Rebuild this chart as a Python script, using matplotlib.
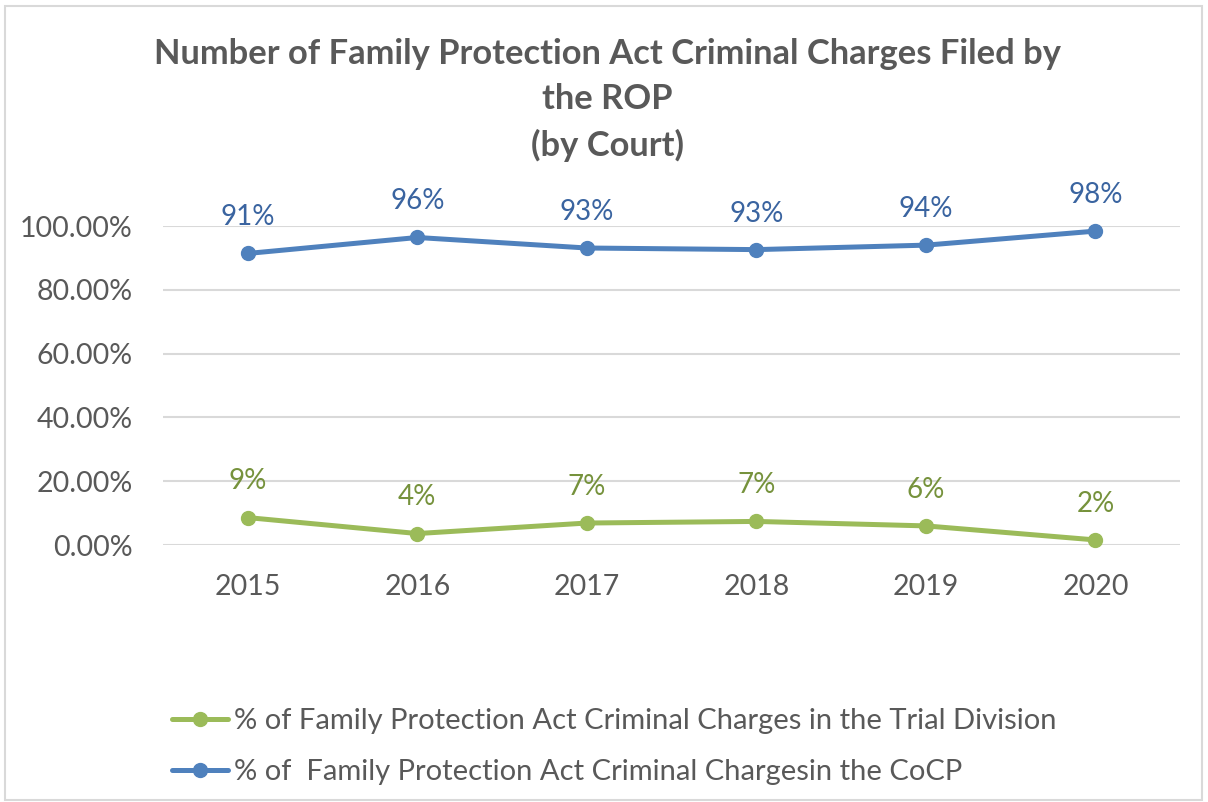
import matplotlib.pyplot as plt
from matplotlib.ticker import PercentFormatter

# data
years = ["2015", "2016", "2017", "2018", "2019", "2020"]
trial_pct = [0.086, 0.036, 0.069, 0.074, 0.060, 0.016]
cocp_pct = [0.914, 0.964, 0.931, 0.926, 0.940, 0.984]
trial_labels = ["9%", "4%", "7%", "7%", "6%", "2%"]
cocp_labels = ["91%", "96%", "93%", "93%", "94%", "98%"]

plt.rcParams["font.family"] = ["Lato", "DejaVu Sans"]

green = "#9bbb59"
blue = "#4f81bd"
grey = "#595959"

fig = plt.figure(figsize=(12.08, 8.02), dpi=100)
ax = fig.add_axes([0.135, 0.3204, 0.842, 0.3978])

x = range(len(years))
ax.plot(x, trial_pct, color=green, lw=3.6, marker="o", ms=10,
        label="% of Family Protection Act Criminal Charges in the Trial Division",
        solid_capstyle="round", clip_on=False, zorder=3)
ax.plot(x, cocp_pct, color=blue, lw=3.6, marker="o", ms=10,
        label="% of  Family Protection Act Criminal Chargesin the CoCP",
        solid_capstyle="round", clip_on=False, zorder=3)

# data labels
for i in x:
    ax.annotate(trial_labels[i], (i, trial_pct[i]), xytext=(0, 26),
                textcoords="offset points", ha="center", va="center",
                fontsize=20, color="#76923c", annotation_clip=False)
    ax.annotate(cocp_labels[i], (i, cocp_pct[i]), xytext=(0, 26),
                textcoords="offset points", ha="center", va="center",
                fontsize=20, color="#3a64a0", annotation_clip=False)

ax.set_xlim(-0.5, len(years) - 0.5)
ax.set_ylim(0, 1.0)
ax.set_yticks([0, 0.2, 0.4, 0.6, 0.8, 1.0])
ax.yaxis.set_major_formatter(PercentFormatter(1.0, decimals=2))
ax.set_xticks(list(x))
ax.set_xticklabels(years)
ax.tick_params(axis="both", length=0, labelsize=20.5, labelcolor=grey)
ax.tick_params(axis="x", pad=21)
ax.tick_params(axis="y", pad=22)
ax.grid(axis="y", color="#d9d9d9", lw=1.5)
ax.set_axisbelow(True)
for s in ax.spines.values():
    s.set_visible(False)

fig.text(0.5025, 0.952, "Number of Family Protection Act Criminal Charges Filed by\nthe ROP\n(by Court)",
         ha="center", va="top", fontsize=24.8, fontweight="bold", color=grey,
         linespacing=1.5)

fig.legend(loc="lower left", bbox_to_anchor=(0.133, 0.007), bbox_transform=fig.transFigure,
           frameon=False, fontsize=21, labelcolor=grey, handlelength=1.9,
           handletextpad=0.2, labelspacing=0.85, borderaxespad=0)

# chart border
fig.patches.append(plt.Rectangle((0.004, 0.002), 0.991, 0.99, transform=fig.transFigure,
                                 fill=False, edgecolor="#d9d9d9", lw=1.5))

fig.savefig("out.png", dpi=100)
